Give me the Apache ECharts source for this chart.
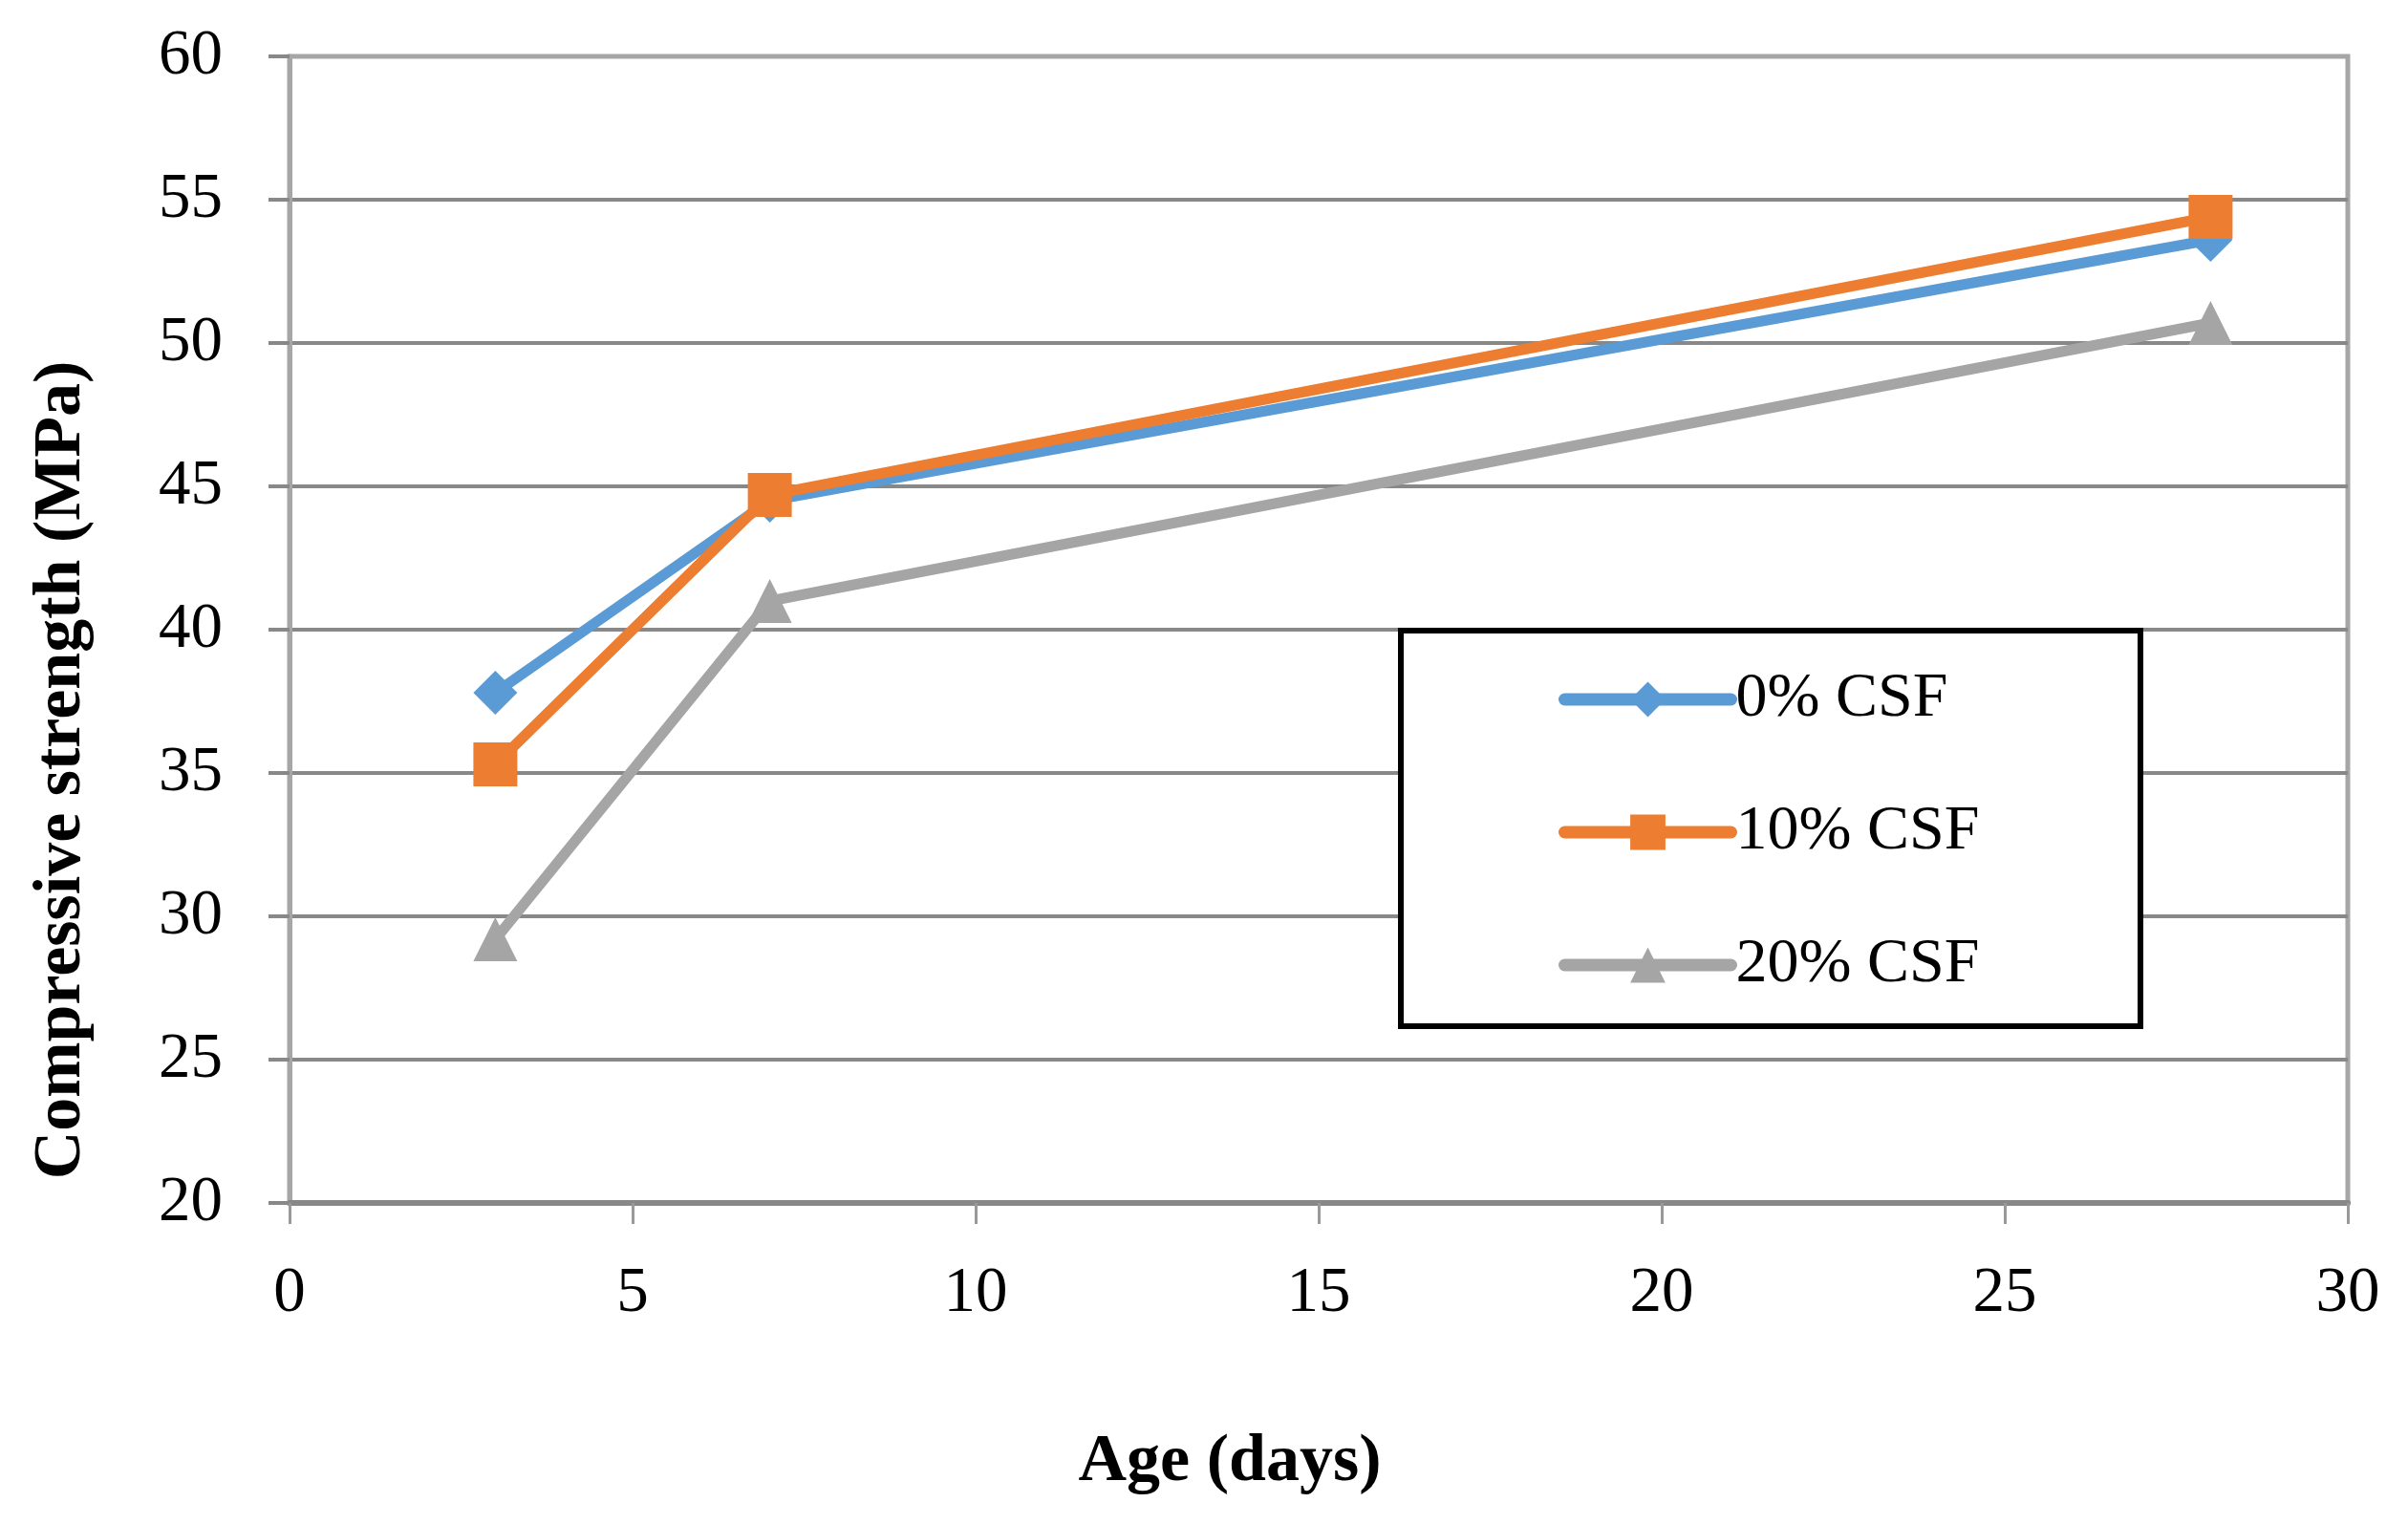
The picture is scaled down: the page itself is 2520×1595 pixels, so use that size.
<!DOCTYPE html>
<html>
<head>
<meta charset="utf-8">
<script src="https://cdn.jsdelivr.net/npm/echarts@6/dist/echarts.min.js"></script>
<style>html,body{margin:0;padding:0;background:#fff}#c{width:2520px;height:1595px}</style>
</head>
<body>
<div id="c"></div>
<script>
const ages = [3, 7, 28];
const csf0 = [37.8, 44.5, 53.6];
const csf10 = [35.3, 44.7, 54.4];
const csf20 = [29.2, 41.0, 50.7];
const seriesNames = ['0% CSF', '10% CSF', '20% CSF'];
const xTitle = 'Age (days)';
const yTitle = 'Compressive strength (MPa)';

const FONT = '"Liberation Serif", "DejaVu Serif", serif';
const colors = ['#5B9BD5', '#ED7D31', '#A5A5A5'];
const symbols = ['diamond', 'rect', 'triangle'];
const values = [csf0, csf10, csf20];

const chart = echarts.init(document.getElementById('c'));
chart.setOption({
  animation: false,
  backgroundColor: '#ffffff',
  grid: { left: 303, right: 63, top: 59, bottom: 336, show: true, borderColor: '#A6A6A6', borderWidth: 5, backgroundColor: 'transparent' },
  xAxis: {
    type: 'value', min: 0, max: 30, interval: 5,
    axisLine: { show: true, onZero: false, lineStyle: { color: '#888888', width: 6 } },
    axisTick: { show: true, length: 22, lineStyle: { color: '#999999', width: 3 } },
    axisLabel: { margin: 62, fontSize: 67, fontFamily: FONT, color: '#000' },
    splitLine: { show: false }
  },
  yAxis: {
    type: 'value', min: 20, max: 60, interval: 5,
    axisLine: { show: true, lineStyle: { color: '#A6A6A6', width: 5 } },
    axisTick: { show: true, length: 22, lineStyle: { color: '#888888', width: 4 } },
    axisLabel: { margin: 70, fontSize: 67, fontFamily: FONT, color: '#000' },
    splitLine: { show: true, showMinLine: false, showMaxLine: false, lineStyle: { color: '#888888', width: 4 } }
  },
  legend: {
    orient: 'vertical', left: 1631, top: 699, padding: 0, z: 10,
    itemWidth: 174, itemHeight: 46, itemGap: 73, itemTextGap: 11,
    lineStyle: { width: 13, cap: 'round' },
    textStyle: { fontSize: 66, fontFamily: FONT, color: '#000' },
    data: seriesNames
  },
  graphic: [
    { type: 'rect', z: 5, shape: { x: 1466, y: 660, width: 774, height: 414 }, style: { fill: '#fff', stroke: '#000', lineWidth: 6 } },
    { type: 'text', z: 5, x: 1287, y: 1531, style: { text: xTitle, font: 'bold 70px ' + FONT, fill: '#000', textAlign: 'center', textVerticalAlign: 'middle' } },
    { type: 'text', z: 5, x: 65, y: 806, rotation: Math.PI / 2, style: { text: yTitle, font: 'bold 70px ' + FONT, fill: '#000', textAlign: 'center', textVerticalAlign: 'middle' } }
  ],
  series: seriesNames.map((n, i) => ({
    name: n, type: 'line', z: 2 + i,
    data: ages.map((a, j) => [a, values[i][j]]),
    symbol: symbols[i], symbolSize: 46,
    itemStyle: { color: colors[i] },
    lineStyle: { color: colors[i], width: 11, cap: 'round', join: 'round' }
  }))
});
</script>
</body>
</html>
